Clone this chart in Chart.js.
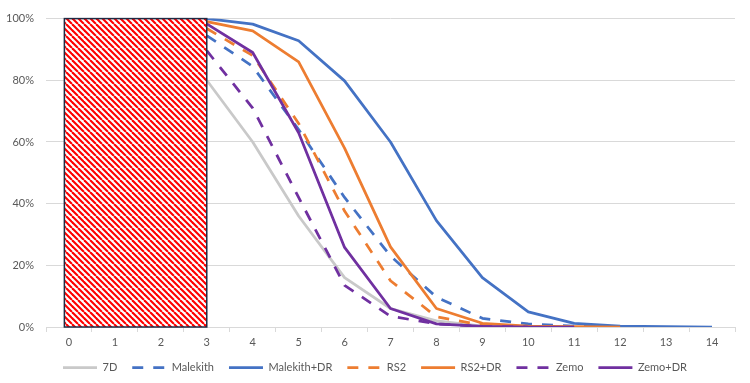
<!DOCTYPE html>
<html>
<head>
<meta charset="utf-8">
<script src="https://cdn.jsdelivr.net/npm/chart.js@4"></script>
<style>
  html, body { margin: 0; padding: 0; background: #fff; }
  canvas { display: block; }
</style>
</head>
<body>
<canvas id="chart" width="750" height="383"></canvas>
<script>
// data (percent)
const categories = ['0', '1', '2', '3', '4', '5', '6', '7', '8', '9', '10', '11', '12', '13', '14'];
const yTicks = [0, 20, 40, 60, 80, 100];

const d7D        = [null, null, null, 80, 60, 36, 16, 6, 2, 0.3, 0, null, null, null, null];
const malekith   = [null, null, null, 94.5, 84.5, 64, 42, 23, 9.7, 2.8, 1, 0.3, 0, null, null];
const malekithDR = [null, null, null, 100, 98.2, 92.8, 79.8, 60, 34.5, 16, 4.9, 1.2, 0.3, 0.1, 0];
const rs2        = [null, null, null, 96.8, 88, 66, 37.6, 15, 3.3, 0.6, 0, null, null, null, null];
const rs2DR      = [null, null, null, 99, 96, 86, 58, 26, 6, 1.2, 0.3, 0.1, 0, null, null];
const zemo       = [null, null, null, 89.6, 71, 42, 13.5, 3.5, 1, 0.2, 0, null, null, null, null];
const zemoDR     = [null, null, null, 98.3, 89, 63, 25.8, 6, 1, 0.2, 0, 0, null, null, null];

// hatched block (category units / percent)
const boxFrom = -0.1;
const boxTo = 3;
const boxTop = 100;

const FONT = 'Lato';
const TEXT = '#595959';
const GRID = '#d9d9d9';
const DASH = [11, 10];

function series(label, data, color, dashed) {
  return {
    label: label,
    data: data,
    borderColor: color,
    backgroundColor: color,
    borderWidth: 2.75,
    borderDash: dashed ? DASH : [],
    pointRadius: 0,
    pointHoverRadius: 0,
    tension: 0,
    fill: false,
    borderCapStyle: 'butt',
    borderJoinStyle: 'round'
  };
}

const datasets = [
  series('7D', d7D, '#c9c9c9', false),
  series('Malekith', malekith, '#4472c4', true),
  series('Malekith+DR', malekithDR, '#4472c4', false),
  series('RS2', rs2, '#ed7d31', true),
  series('RS2+DR', rs2DR, '#ed7d31', false),
  series('Zemo', zemo, '#7030a0', true),
  series('Zemo+DR', zemoDR, '#7030a0', false)
];
// later series drawn on top, like the original
datasets.forEach((d, i) => { d.order = -i; });

function makeHatch() {
  const size = 12;
  const c = document.createElement('canvas');
  c.width = size;
  c.height = size;
  const g = c.getContext('2d');
  g.fillStyle = '#fff';
  g.fillRect(0, 0, size, size);
  g.strokeStyle = '#ff0000';
  g.lineWidth = 2.1;
  [-12, -6, 0, 6, 12].forEach(o => {
    g.beginPath();
    g.moveTo(o, 0);
    g.lineTo(o + size, size);
    g.stroke();
  });
  return c;
}

const hatchBox = {
  id: 'hatchBox',
  afterLayout(chart) {
    // center the legend on the whole canvas, not on the padded area
    if (chart.legend) {
      chart.legend.left = 0;
      chart.legend.right = chart.width;
    }
  },
  afterDatasetsDraw(chart) {
    const ctx = chart.ctx;
    const xs = chart.scales.x;
    const ys = chart.scales.y;
    const x0 = xs.getPixelForValue(boxFrom);
    const x1 = xs.getPixelForValue(boxTo);
    const y0 = ys.getPixelForValue(boxTop);
    const y1 = ys.getPixelForValue(0);
    ctx.save();
    ctx.fillStyle = ctx.createPattern(makeHatch(), 'repeat');
    ctx.fillRect(x0, y0, x1 - x0, y1 - y0);
    ctx.strokeStyle = '#1f2a44';
    ctx.lineWidth = 1.5;
    ctx.strokeRect(x0, y0, x1 - x0, y1 - y0);
    ctx.restore();
  }
};

new Chart(document.getElementById('chart'), {
  type: 'line',
  data: { labels: categories, datasets: datasets },
  options: {
    responsive: false,
    animation: false,
    spanGaps: false,
    layout: { padding: { top: 16, right: 15, bottom: 0, left: 0 } },
    scales: {
      x: {
        type: 'category',
        offset: true,
        grid: {
          offset: true,
          drawOnChartArea: false,
          drawTicks: true,
          tickLength: 5,
          color: GRID
        },
        border: { color: GRID },
        ticks: {
          color: TEXT,
          font: { family: FONT, size: 11 },
          padding: 4,
          maxRotation: 0,
          autoSkip: false
        },
        afterFit(scale) { scale.height = 20; }
      },
      y: {
        min: 0,
        max: 100,
        afterBuildTicks(scale) { scale.ticks = yTicks.map(v => ({ value: v })); },
        grid: { color: GRID, drawTicks: false },
        border: { display: false },
        ticks: {
          color: TEXT,
          font: { family: FONT, size: 11 },
          padding: 12,
          callback: v => v + '%'
        },
        afterFit(scale) { scale.width = 46; }
      }
    },
    plugins: {
      legend: {
        position: 'bottom',
        labels: {
          usePointStyle: true,
          pointStyle: 'line',
          pointStyleWidth: 34,
          padding: 15,
          color: TEXT,
          font: { family: FONT, size: 11 },
          sort: (a, b) => a.datasetIndex - b.datasetIndex,
          generateLabels(chart) {
            const items = Chart.defaults.plugins.legend.labels.generateLabels(chart);
            items.forEach(item => {
              const ds = chart.data.datasets[item.datasetIndex];
              item.lineDash = ds.borderDash;
              item.lineWidth = ds.borderWidth;
              item.strokeStyle = ds.borderColor;
              item.lineCap = 'butt';
            });
            return items;
          }
        }
      },
      tooltip: { enabled: false }
    }
  },
  plugins: [hatchBox]
});
</script>
</body>
</html>
